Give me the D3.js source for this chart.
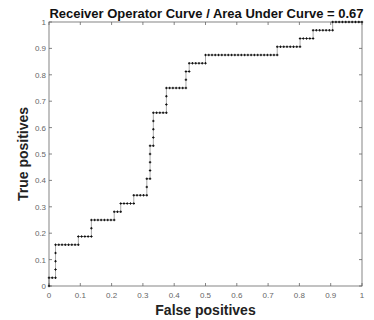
<!DOCTYPE html>
<html>
<head>
<meta charset="utf-8">
<script src="https://cdn.jsdelivr.net/npm/d3@7"></script>
<style>
  body { margin: 0; background: #fff; }
  svg { display: block; }
</style>
</head>
<body>
<div id="chart"></div>
<script>
// Samples ranked by classifier score (high to low): 1 = positive, 0 = negative
const rankedLabels = [
  1, 0, 0, 1, 1, 1, 1, 0, 0, 0, 0, 0, 0, 0, 1, 0, 0, 0, 0, 1, 1,
  0, 0, 0, 0, 0, 0, 0, 1, 0, 0, 1, 0, 0, 0, 0, 1, 0, 0, 0, 0, 1, 1,
  0, 1, 1, 1, 1, 0, 1, 1, 1, 1, 0, 0, 0, 0, 1, 1, 1,
  0, 0, 0, 0, 0, 0, 1, 1, 0, 1, 0, 0, 0, 0, 0, 1,
  0, 0, 0, 0, 0, 0, 0, 0, 0, 0, 0, 0, 0, 0, 0, 0, 0, 0, 0, 0, 0, 0, 1,
  0, 0, 0, 0, 0, 0, 0, 1, 0, 0, 0, 0, 1, 0, 0, 0, 0, 0, 0, 1,
  0, 0, 0, 0, 0, 0, 0, 0, 0
];
const xTicks = [0, 0.1, 0.2, 0.3, 0.4, 0.5, 0.6, 0.7, 0.8, 0.9, 1];
const yTicks = [0, 0.1, 0.2, 0.3, 0.4, 0.5, 0.6, 0.7, 0.8, 0.9, 1];
const titleText = 'Receiver Operator Curve / Area Under Curve = 0.67';
const xLabel = 'False positives';
const yLabel = 'True positives';

const width = 374, height = 320;
const margin = { top: 22, right: 12, bottom: 34, left: 49 };

// ROC points from the ranked labels
const nPos = d3.sum(rankedLabels);
const nNeg = rankedLabels.length - nPos;
const roc = [[0, 0]];
let tp = 0, fp = 0;
rankedLabels.forEach((l) => {
  if (l) tp++; else fp++;
  roc.push([fp / nNeg, tp / nPos]);
});

const svg = d3.select('#chart').append('svg')
  .attr('width', width)
  .attr('height', height)
  .attr('font-family', 'Liberation Sans, Arial, sans-serif');

const x = d3.scaleLinear().domain([0, 1]).range([margin.left, width - margin.right]);
const y = d3.scaleLinear().domain([0, 1]).range([height - margin.bottom, margin.top]);

const axisColor = '#666';
const tickLen = 3;

// box
svg.append('rect')
  .attr('x', x(0)).attr('y', y(1))
  .attr('width', x(1) - x(0)).attr('height', y(0) - y(1))
  .attr('fill', 'none').attr('stroke', axisColor).attr('stroke-width', 0.8);

// inward ticks, mirrored on all four sides
const ticks = svg.append('g').attr('stroke', axisColor).attr('stroke-width', 0.8);
xTicks.forEach((t) => {
  ticks.append('line').attr('x1', x(t)).attr('x2', x(t)).attr('y1', y(0)).attr('y2', y(0) - tickLen);
  ticks.append('line').attr('x1', x(t)).attr('x2', x(t)).attr('y1', y(1)).attr('y2', y(1) + tickLen);
});
yTicks.forEach((t) => {
  ticks.append('line').attr('y1', y(t)).attr('y2', y(t)).attr('x1', x(0)).attr('x2', x(0) + tickLen);
  ticks.append('line').attr('y1', y(t)).attr('y2', y(t)).attr('x1', x(1)).attr('x2', x(1) - tickLen);
});

// tick labels
const fmt = (d) => d3.format('~g')(d);
svg.append('g')
  .attr('font-size', 8).attr('fill', '#666').attr('text-anchor', 'middle')
  .selectAll('text').data(xTicks).join('text')
  .attr('x', (d) => x(d)).attr('y', y(0) + 12)
  .text(fmt);
svg.append('g')
  .attr('font-size', 8).attr('fill', '#666').attr('text-anchor', 'end')
  .selectAll('text').data(yTicks).join('text')
  .attr('x', x(0) - 3).attr('y', (d) => y(d) + 3)
  .text(fmt);

// ROC line + markers
const line = d3.line().x((d) => x(d[0])).y((d) => y(d[1]));
svg.append('path')
  .datum(roc)
  .attr('d', line)
  .attr('fill', 'none')
  .attr('stroke', '#555')
  .attr('stroke-width', 0.5);

svg.append('g')
  .attr('stroke', '#111').attr('stroke-width', 1)
  .selectAll('path').data(roc).join('path')
  .attr('d', (d) => {
    const cx = x(d[0]), cy = y(d[1]), s = 1.2;
    return `M${cx - s},${cy}H${cx + s}M${cx},${cy - s}V${cy + s}`;
  });

// title and axis labels
svg.append('text')
  .attr('x', (x(0) + x(1)) / 2 + 1).attr('y', 18)
  .attr('text-anchor', 'middle')
  .attr('font-size', 13).attr('font-weight', 'bold').attr('fill', '#111')
  .text(titleText);

svg.append('text')
  .attr('x', (x(0) + x(1)) / 2).attr('y', 315)
  .attr('text-anchor', 'middle')
  .attr('font-size', 14).attr('font-weight', 'bold').attr('fill', '#222')
  .text(xLabel);

svg.append('text')
  .attr('transform', `translate(28,${(y(0) + y(1)) / 2}) rotate(-90)`)
  .attr('text-anchor', 'middle')
  .attr('font-size', 14).attr('font-weight', 'bold').attr('fill', '#222')
  .text(yLabel);
</script>
</body>
</html>
